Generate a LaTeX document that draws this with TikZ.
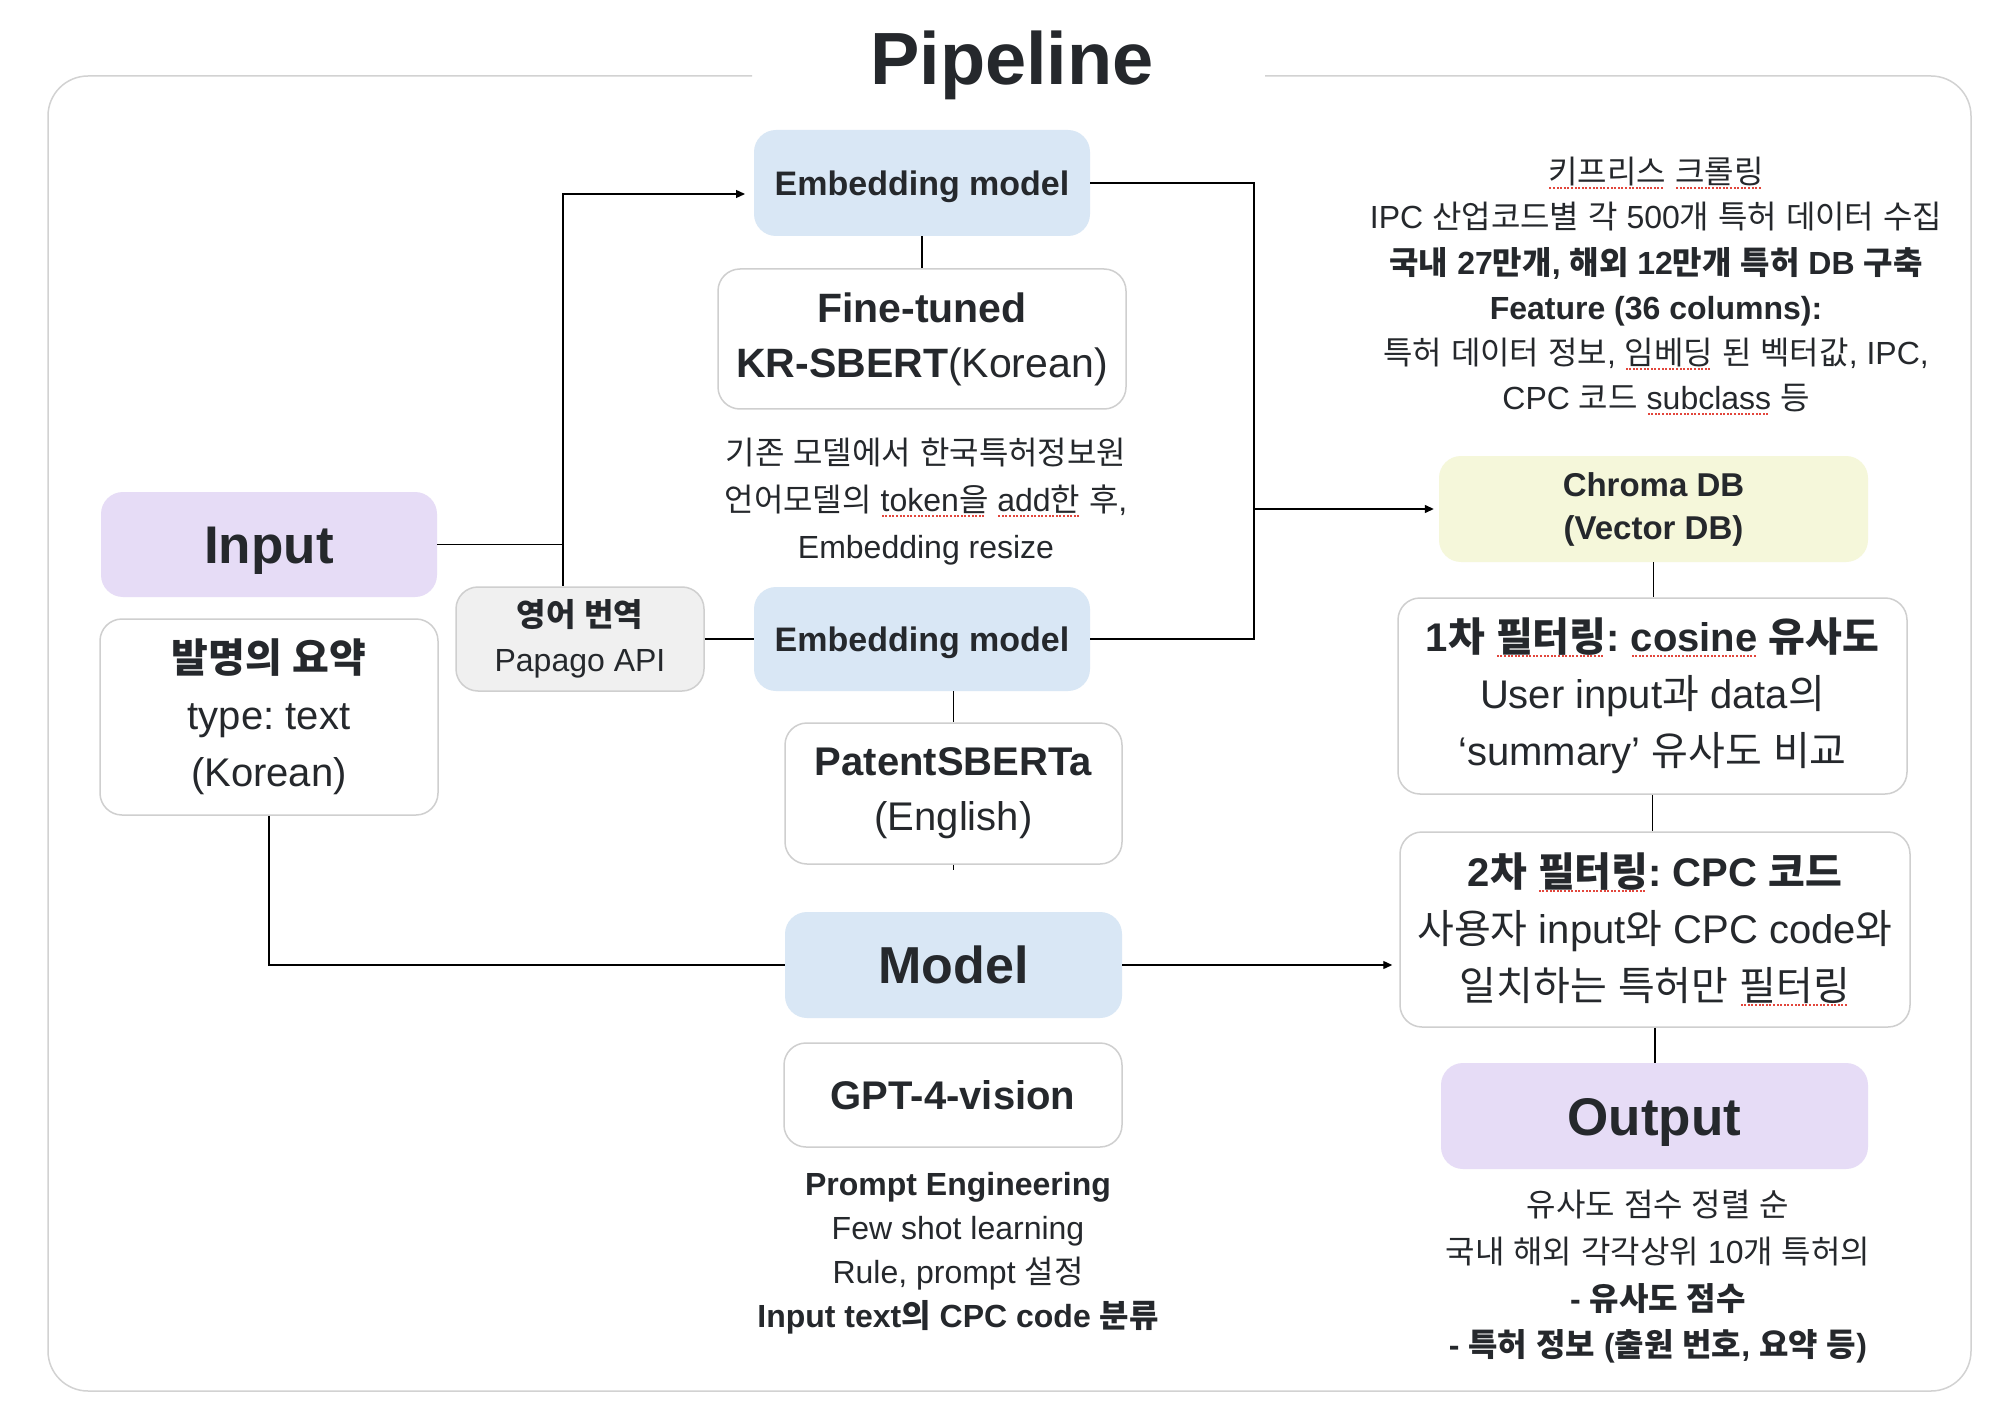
\documentclass[tikz,border=0pt]{standalone}
\usepackage{fontspec}
\setmainfont{Liberation Sans}
\newfontfamily\krfont{Noto Sans CJK KR}
\usetikzlibrary{arrows.meta}
% --- automatic font switch for Hangul syllables ---
\chardef\HangulCls=201
\newcount\hgc
\hgc="AC00
\loop\XeTeXcharclass\hgc=\HangulCls\advance\hgc by 1\relax\ifnum\hgc<"D7A4 \repeat
\XeTeXinterchartoks 0 \HangulCls = {\krfont}
\XeTeXinterchartoks 1 \HangulCls = {\krfont}
\XeTeXinterchartoks 2 \HangulCls = {\krfont}
\XeTeXinterchartoks 3 \HangulCls = {\krfont}
\XeTeXinterchartoks 4095 \HangulCls = {\krfont}
\XeTeXinterchartoks \HangulCls 0 = {\rmfamily}
\XeTeXinterchartoks \HangulCls 1 = {\rmfamily}
\XeTeXinterchartoks \HangulCls 2 = {\rmfamily}
\XeTeXinterchartoks \HangulCls 3 = {\rmfamily}
\XeTeXinterchartoks \HangulCls 4095 = {\rmfamily}
\XeTeXinterchartokenstate=1
\frenchspacing
\definecolor{txt}{HTML}{25282C}
\definecolor{bluef}{HTML}{D9E7F5}
\definecolor{purplef}{HTML}{E6DCF6}
\definecolor{yellowf}{HTML}{F5F7DA}
\definecolor{grayf}{HTML}{F0F0F0}
\definecolor{bordc}{HTML}{CFCFCF}
\definecolor{framec}{HTML}{D2D2D2}
\definecolor{sqred}{HTML}{E2463C}
\newcommand\fs[2]{\fontsize{#1}{#2}\selectfont}
\newcommand\sq[1]{\setbox0=\hbox{#1}\leavevmode\rlap{\textcolor{sqred}{\raisebox{-5pt}{\hbox to \wd0{\leaders\hbox to 3.6pt{\hss\rule{2pt}{2pt}\hss}\hfill}}}}\box0\relax}
\tikzset{
  anybox/.style={rounded corners=22pt, align=center, text=txt, inner sep=0pt},
  bluebox/.style={anybox, fill=bluef},
  purplebox/.style={anybox, fill=purplef},
  yellowbox/.style={anybox, fill=yellowf},
  whitebox/.style={anybox, fill=white, draw=bordc, line width=1.5pt},
  graybox/.style={anybox, fill=grayf, draw=bordc, line width=1.5pt},
  note/.style={align=center, text=txt, inner sep=0pt},
  conn/.style={draw=black, line width=1.3pt},
  arr/.style={conn, -{Triangle[length=9pt,width=8pt]}}
}
\begin{document}
\begin{tikzpicture}[x=1pt,y=-1pt]
\useasboundingbox (0,0) rectangle (2008,1420);
\fill[white] (0,0) rectangle (2008,1420);
% frame
\draw[framec, line width=1.5pt, rounded corners=40pt] (752,76) -- (48,76) -- (48,1391) -- (1971,1391) -- (1971,76) -- (1265,76);
\node[note, anchor=base, font=\fs{74}{80}\bfseries] (title) at (1012,85) {Pipeline};
% left column
\node[purplebox, minimum width=336pt, minimum height=105pt, text height=38pt, text depth=0pt, font=\fs{53}{60}\bfseries] (input) at (269,544.5) {Input};
\node[whitebox, minimum width=338pt, minimum height=196pt, font=\fs{40}{57}] (summ) at (269,717) {{\bfseries 발명의 요약}\\type: text\\(Korean)};
\node[graybox, minimum width=248pt, minimum height=104pt, font=\fs{32}{45}] (trans) at (580,639) {{\bfseries 영어 번역}\\Papago API};
% middle column
\node[bluebox, minimum width=336pt, minimum height=106pt, text height=24.5pt, text depth=0pt, font=\fs{34}{40}\bfseries] (emb1) at (922,183) {Embedding model};
\node[whitebox, minimum width=408pt, minimum height=140pt, font=\fs{41}{55}] (ft) at (922,339) {{\bfseries Fine-tuned}\\{\bfseries KR-SBERT}(Korean)};
\node[note, font=\fs{32}{47}] (ftnote) at (926,502) {기존 모델에서 한국특허정보원\\언어모델의 \sq{token을} \sq{add한} 후,\\Embedding resize};
\node[bluebox, minimum width=336pt, minimum height=104pt, text height=24.5pt, text depth=0pt, font=\fs{34}{40}\bfseries] (emb2) at (922,639) {Embedding model};
\node[whitebox, minimum width=337pt, minimum height=141pt, font=\fs{40}{55}] (patent) at (953.5,793.5) {{\bfseries PatentSBERTa}\\(English)};
\node[bluebox, minimum width=337pt, minimum height=106pt, text height=37pt, text depth=0pt, font=\fs{52}{60}\bfseries] (model) at (953.5,965) {Model};
\node[whitebox, minimum width=338pt, minimum height=104pt, font=\fs{40}{48}\bfseries] (gpt) at (953,1095) {GPT-4-vision};
\node[note, font=\fs{32}{44}] (gptnote) at (958,1253) {{\bfseries Prompt Engineering}\\Few shot learning\\Rule, prompt 설정\\{\bfseries Input text의 CPC code 분류}};
% right column
\node[note, font=\fs{32}{45.2}] (info) at (1656,286) {\sq{키프리스} \sq{크롤링}\\IPC 산업코드별 각 500개 특허 데이터 수집\\{\bfseries 국내 27만개, 해외 12만개 특허 DB 구축}\\{\bfseries Feature (36 columns):}\\특허 데이터 정보, \sq{임베딩} 된 벡터값, IPC,\\CPC 코드 \sq{subclass} 등};
\node[yellowbox, minimum width=429pt, minimum height=106pt, font=\fs{33}{43}\bfseries] (chroma) at (1653.5,509) {Chroma DB\\(Vector DB)};
\node[whitebox, minimum width=509pt, minimum height=196pt, font=\fs{40}{57}] (f1) at (1652.5,696) {{\bfseries 1차 \sq{필터링}: \sq{cosine} 유사도}\\User input과 data의\\‘summary’ 유사도 비교};
\node[whitebox, minimum width=510pt, minimum height=195pt, font=\fs{40}{57}] (f2) at (1655,929.5) {{\bfseries 2차 \sq{필터링}: CPC 코드}\\사용자 input와 CPC code와\\일치하는 특허만 \sq{필터링}};
\node[purplebox, minimum width=427pt, minimum height=106pt, text height=38pt, text depth=0pt, font=\fs{53}{60}\bfseries] (output) at (1654.5,1116) {Output};
\node[note, font=\fs{32}{46.7}] (outnote) at (1658,1277) {유사도 점수 정렬 순\\국내 해외 각각상위 10개 특허의\\{\bfseries - 유사도 점수}\\{\bfseries - 특허 정보 (출원 번호, 요약 등)}};
% connectors
\coordinate (j1) at (563,544.5);
\coordinate (a1) at (745,194);
\coordinate (j2) at (1254,509);
\coordinate (stub) at (953.5,870);
\draw[conn] (input.east) -- (j1);
\draw[conn] (j1) -- (j1 |- trans.north);
\draw[arr] (j1) |- (a1);
\draw[conn] (trans.east) -- (emb2.west);
\draw[conn] (emb1.south) -- (ft.north);
\draw[conn] (patent.north |- emb2.south) -- (patent.north);
\draw[conn] (patent.south) -- (stub);
\draw[conn] (summ.south) |- (model.west);
\draw[arr, shorten >=7pt] (model.east) -- (model.east -| f2.west);
\draw[conn] (emb1.east) -| (j2);
\draw[conn] (emb2.east) -| (j2);
\draw[arr, shorten >=5pt] (j2) -- (chroma.west);
\draw[conn] (chroma.south) -- (chroma.south |- f1.north);
\draw[conn] (f1.south) -- (f1.south |- f2.north);
\draw[conn] (f2.south) -- (f2.south |- output.north);
\end{tikzpicture}
\end{document}
